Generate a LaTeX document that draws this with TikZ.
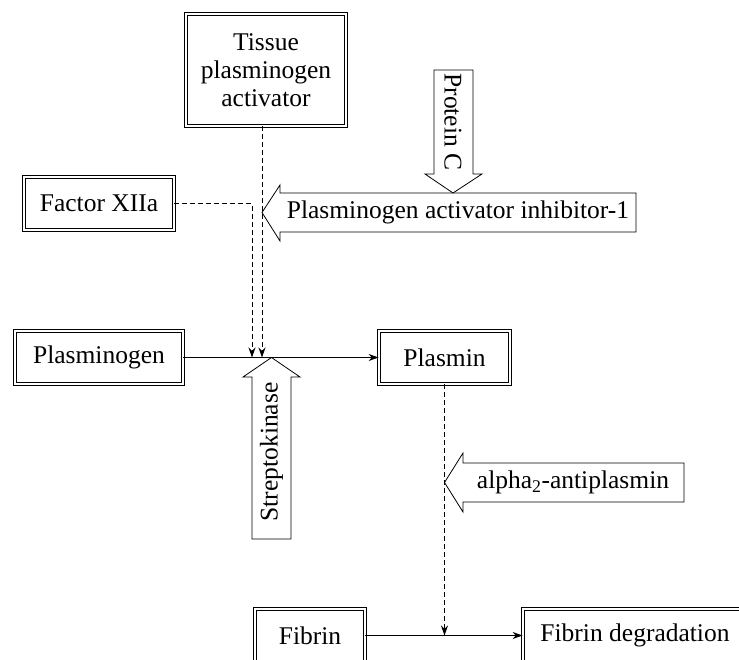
\documentclass[tikz,border=0pt]{standalone}
\usepackage{fontspec}
\setmainfont{Liberation Serif}
\usetikzlibrary{arrows.meta}

\begin{document}
\begin{tikzpicture}[x=1pt, y=-1pt, line width=1pt, font=\fontsize{25.5}{28}\selectfont]
\tikzstyle{box} = [draw, double, double distance=2.5pt, line width=0.8pt, inner sep=0pt, align=center]
\tikzstyle{blk} = [draw, line width=0.8pt]
\tikzstyle{dsh} = [dash pattern=on 5pt off 3pt, -{Stealth[length=10pt,width=7pt]}]
\tikzstyle{sld} = [line width=1.2pt, -{Stealth[length=10pt,width=7pt]}]
\useasboundingbox (0,0) rectangle (739,660);
\clip (0,0) rectangle (739,660);
\node[box, minimum width=160, minimum height=112] (tpa) at (266,70) {Tissue\\plasminogen\\activator};
\node[box, minimum width=150, minimum height=53] (fxii) at (99,203.5) {Factor XIIa};
\node[box, minimum width=168, minimum height=53] (plg) at (99,357.5) {Plasminogen};
\node[box, minimum width=131, minimum height=53] (pls) at (444.5,357.5) {Plasmin};
\node[box, minimum width=110, minimum height=53] (fib) at (310,635.5) {Fibrin};
\node[box, minimum width=224, minimum height=53] (fdg) at (635,635.5) {Fibrin degradation};
\coordinate (hit) at (257,357.5);
\coordinate (hit2) at (444.5,635.5);
\draw[sld] (plg) -- (pls);
\draw[sld] (fib) -- (fdg);
\draw[dsh] ([xshift=-4]tpa.south) -- ([xshift=5]hit);
\draw[dsh] (fxii.east) -| ([xshift=-5]hit);
\draw[dsh] (pls.south) -- (hit2);
\draw[blk] (434,70) -- (473,70) -- (473,174) -- (482,174) -- (453,193) -- (425,174) -- (434,174) -- cycle;
\node[rotate=-90] (protc) at (453,122) {Protein C};
\draw[blk] (636,193) -- (636,232) -- (280,232) -- (280,241) -- (262,212.5) -- (280,185) -- (280,193) -- cycle;
\node (pai) at (458,212.5) {Plasminogen activator inhibitor-1};
\draw[blk] (252,539) -- (291,539) -- (291,377) -- (300,377) -- (271.5,357.5) -- (243,377) -- (252,377) -- cycle;
\node[rotate=90] (strep) at (271.5,452) {Streptokinase};
\draw[blk] (684,463) -- (684,502) -- (463,502) -- (463,512) -- (444.5,482.5) -- (463,453) -- (463,463) -- cycle;
\node (a2ap) at (573,482.5) {alpha\textsubscript{2}-antiplasmin};
\end{tikzpicture}
\end{document}
